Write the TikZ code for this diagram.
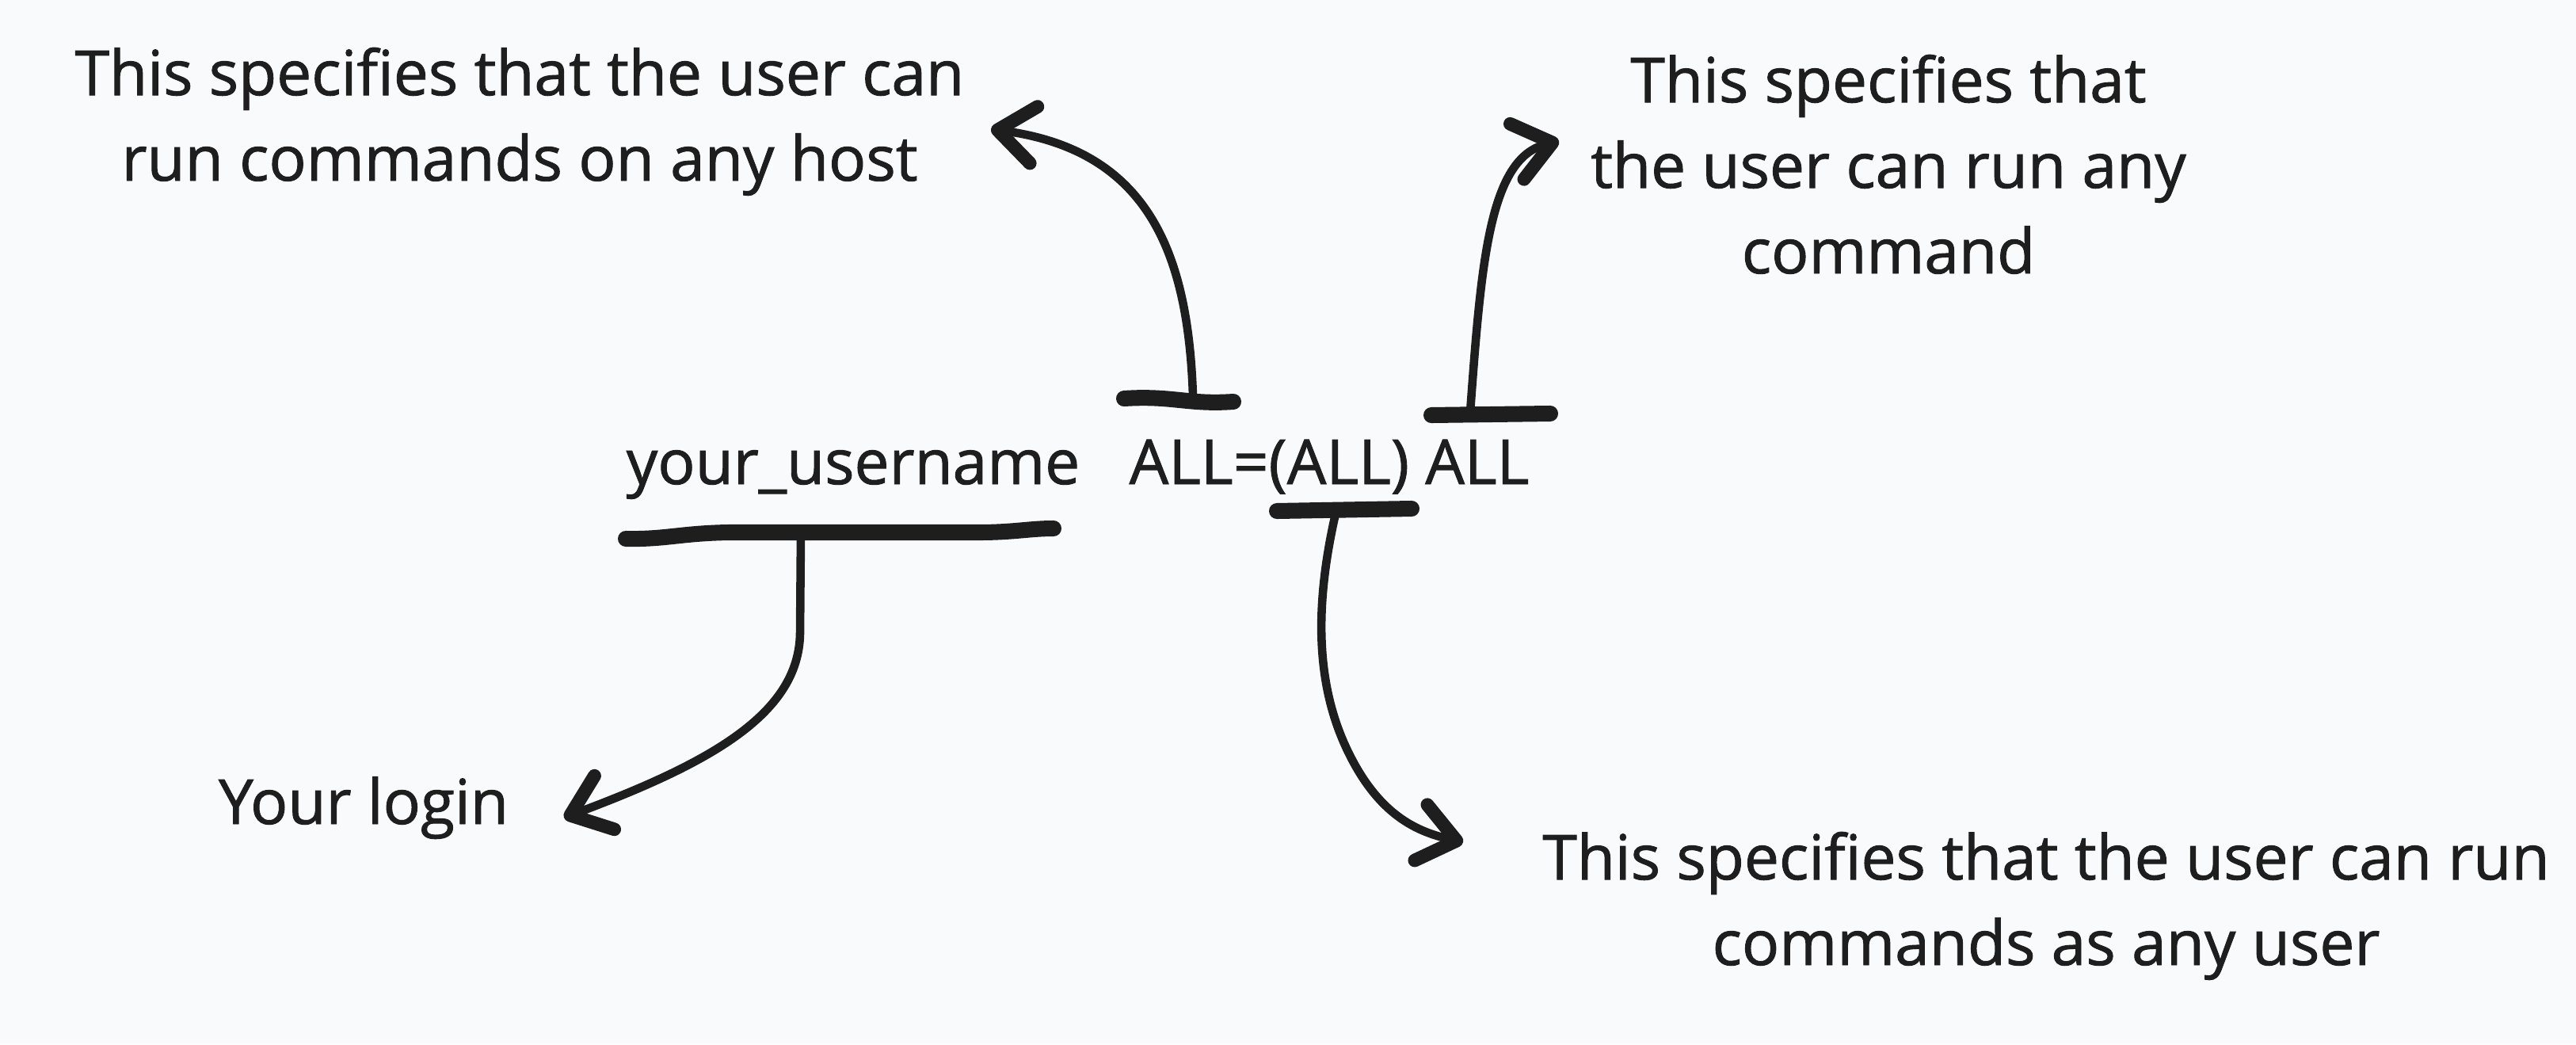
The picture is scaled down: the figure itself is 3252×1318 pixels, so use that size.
\documentclass[tikz,border=0pt]{standalone}
\usepackage{fontspec}
\setmainfont{Open Sans}
\newfontfamily\notefamily{Open Sans}[FakeBold=1.2]
\usepackage{xcolor}
\usepackage{tikz}
\usetikzlibrary{arrows.meta,positioning,calc}

\definecolor{ink}{RGB}{30,30,30}
\definecolor{paper}{RGB}{249,250,251}

\begin{document}
\begin{tikzpicture}[
  x=0.01cm, y=-0.01cm,
  note/.style={text=ink, align=center, inner sep=0pt, anchor=base, font=\notefamily\fontsize{22.3}{30.7}\selectfont},
  bar/.style={draw=ink, line width=5.7pt, line cap=round},
  pointer/.style={draw=ink, line width=3pt, line cap=round, -{Straight Barb[length=4.6mm, width=7.2mm, line width=4.8pt 0, round]}}
]
% canvas
\useasboundingbox (0,0) rectangle (3252,1318);
\fill[paper] (0,0) rectangle (3252,1318);
% sudoers entry
\node[note] (username) at (1077,611) {your\_username};
\node[note] (rule) at (1678,611) {ALL=(ALL) ALL};
% explanations (placed at the baseline of their last line)
\node[note] (hostnote) at (656,228) {This specifies that the user can\\run commands on any host};
\node[note] (cmdnote) at (2384,345) {This specifies that\\the user can run any\\command};
\node[note] (runasnote) at (2583,1218) {This specifies that the user can run\\commands as any user};
\node[note] (login) at (459,1040) {Your login};
% ends of the connectors
\coordinate (userfoot) at (1011,672);
\coordinate (logintip) at (712,1032);
\coordinate (hostfoot) at (1506,500);
\coordinate (hosttip) at (1251,163);
\coordinate (cmdfoot) at (1856,520);
\coordinate (cmdtip) at (1968,178);
\coordinate (runasfoot) at (1687,644);
\coordinate (runastip) at (1847,1063);
% user name -> login
\draw[bar] (790,680) .. controls (840,681) and (860,673) .. (920,672) -- (1235,672) .. controls (1280,672) and (1300,667) .. (1330,667);
\draw[pointer] (userfoot) -- (1010,800) .. controls (1008,900) and (900,962) .. (logintip);
% first ALL -> host
\draw[bar] (1419,503) .. controls (1480,499) and (1500,511) .. (1557,507);
\draw[pointer] (hostfoot) .. controls (1500,320) and (1450,190) .. (hosttip);
% last ALL -> command
\draw[bar] (1807,524) -- (1957,522);
\draw[pointer] (cmdfoot) .. controls (1870,330) and (1880,200) .. (cmdtip);
% (ALL) -> run as
\draw[bar] (1612,645) -- (1782,642);
\draw[pointer] (runasfoot) .. controls (1660,760) and (1660,860) .. (1700,945) .. controls (1740,1030) and (1790,1050) .. (runastip);
\end{tikzpicture}
\end{document}
